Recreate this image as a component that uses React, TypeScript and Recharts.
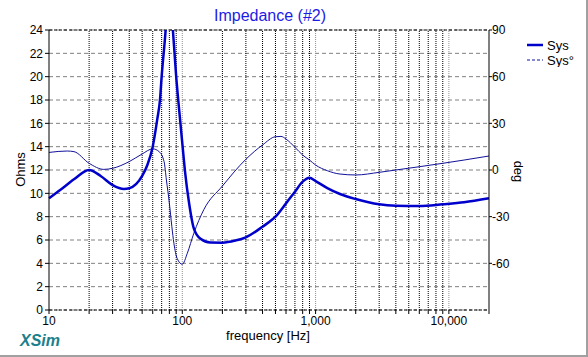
import {
  LineChart,
  Line,
  XAxis,
  YAxis,
  CartesianGrid,
  ReferenceLine,
} from "recharts";

// impedance magnitude (Ohms)
const zFreq = [
  10, 12.2, 15.4, 20, 24.4, 30, 36.5, 40, 50, 54.7, 60, 65, 68, 70, 75, 78, 80,
  82, 85, 90, 95, 100, 105, 112, 122, 137, 162, 200, 250, 300, 400, 500, 600,
  700, 800, 900, 1000, 1225, 1525, 2000, 3000, 4000, 6000, 9000, 13000, 20000,
];
const zOhms = [
  9.57, 10.3, 11.2, 12.0, 11.49, 10.71, 10.37, 10.43, 11.49, 12.43, 14.0,
  16.4, 18, 20, 24, 27, 28, 27, 24, 20, 17, 14.3, 11.8, 9.3, 7.0, 6.1, 5.78,
  5.77, 5.95, 6.23, 7.14, 8.0, 9.14, 10.14, 11.0, 11.34, 11.05, 10.45, 9.94,
  9.51, 9.06, 8.94, 8.91, 9.06, 9.23, 9.57,
];

// phase (deg), thin curve
const pFreq = [
  10, 13.7, 15.4, 20, 25.8, 30, 40, 50, 60, 67, 73, 76, 80, 83.5, 86.5, 91.5,
  100, 109, 122, 145, 200, 300, 400, 500, 550, 600, 700, 800, 900, 1000, 1225,
  1525, 2000, 3000, 4000, 6000, 9000, 13000, 20000,
];
const pDeg = [
  11.3, 12.2, 11.8, 4.3, 0.4, 1.1, 5.4, 10.3, 13.6, 11.8, 5.4, -6.4, -21.4,
  -36.4, -47.1, -56.8, -60.6, -53.6, -40.7, -25.5, -10.3, 6.9, 16.1, 21.4,
  21.6, 19.9, 14.6, 9.6, 6.4, 3.2, -0.45, -2.6, -3.2, -1.5, 0, 2.1, 4.3, 6.4,
  9.0,
];

const freqTicks = [
  10, 20, 30, 40, 50, 60, 70, 80, 90, 100, 200, 300, 400, 500, 600, 700, 800,
  900, 1000, 2000, 3000, 4000, 5000, 6000, 7000, 8000, 9000, 10000, 20000,
];
const decades = [10, 100, 1000, 10000];
const ohmTicks = [0, 2, 4, 6, 8, 10, 12, 14, 16, 18, 20, 22, 24];
const degTicks = [-60, -30, 0, 30, 60, 90];

const zData = zFreq.map((f, i) => ({ f, z: zOhms[i] }));
const pData = pFreq.map((f, i) => ({ f, p: pDeg[i] }));

const font = "Arial, 'Liberation Sans', sans-serif";
const tickStyle = { fontSize: 12, fill: "#000", fontFamily: font };

export default function App() {
  return (
    <div
      style={{
        position: "absolute",
        left: 0,
        top: 0,
        width: 588,
        height: 357,
        background: "#fff",
        boxSizing: "border-box",
        borderRight: "2px solid #a0a0a0",
        borderBottom: "2px solid #a0a0a0",
        fontFamily: font,
      }}
    >
      <LineChart
        width={588}
        height={357}
        margin={{ top: 30, right: 59, bottom: 27, left: 0 }}
      >
        <CartesianGrid
          vertical={false}
          stroke="#808080"
          strokeDasharray="4 3"
          yAxisId="ohm"
        />
        {freqTicks
          .filter((f) => f > 10 && f < 20000)
          .map((f) => (
            <ReferenceLine
              key={f}
              x={f}
              yAxisId="ohm"
              stroke={decades.includes(f) ? "#909090" : "#000"}
              strokeDasharray="1 1"
            />
          ))}
        <ReferenceLine y={24} yAxisId="ohm" stroke="#000" strokeDasharray="3 2" />
        <XAxis
          dataKey="f"
          type="number"
          scale="log"
          domain={[10, 20000]}
          ticks={freqTicks}
          interval={0}
          allowDuplicatedCategory={false}
          tickFormatter={(v: number) =>
            decades.includes(v) ? v.toLocaleString("en-US") : ""
          }
          tick={tickStyle}
          tickSize={4}
          tickMargin={2}
          height={20}
          stroke="#000"
          axisLine={{ stroke: "#000", strokeDasharray: "3 2" }}
        />
        <YAxis
          yAxisId="ohm"
          orientation="left"
          domain={[0, 24]}
          allowDataOverflow
          ticks={ohmTicks}
          interval={0}
          width={49}
          tick={tickStyle}
          tickSize={4}
          tickMargin={2}
          stroke="#000"
        />
        <YAxis
          yAxisId="deg"
          orientation="right"
          domain={[-90, 90]}
          allowDataOverflow
          ticks={degTicks}
          interval={0}
          width={40}
          tick={tickStyle}
          tickSize={3}
          tickMargin={0}
          stroke="#000"
        />
        <Line
          yAxisId="deg"
          data={pData}
          dataKey="p"
          type="monotone"
          stroke="#12129a"
          strokeWidth={1}
          dot={false}
          isAnimationActive={false}
        />
        <Line
          yAxisId="ohm"
          data={zData}
          dataKey="z"
          type="monotone"
          stroke="#0000cc"
          strokeWidth={2.5}
          dot={false}
          isAnimationActive={false}
        />
      </LineChart>

      {/* title and axis captions */}
      <div
        style={{
          position: "absolute",
          left: 0,
          width: 540,
          top: 7,
          textAlign: "center",
          fontSize: 16,
          color: "#1c1ce6",
        }}
      >
        Impedance (#2)
      </div>
      <div
        style={{
          position: "absolute",
          left: 168,
          width: 200,
          top: 328,
          textAlign: "center",
          fontSize: 13,
        }}
      >
        frequency [Hz]
      </div>
      <div
        style={{
          position: "absolute",
          left: -30,
          top: 162,
          width: 100,
          textAlign: "center",
          fontSize: 13,
          transform: "rotate(-90deg)",
        }}
      >
        Ohms
      </div>
      <div
        style={{
          position: "absolute",
          left: 468,
          top: 164,
          width: 100,
          textAlign: "center",
          fontSize: 13,
          transform: "rotate(90deg)",
        }}
      >
        deg
      </div>
      <div
        style={{
          position: "absolute",
          left: 20,
          top: 332,
          fontSize: 16,
          fontWeight: "bold",
          fontStyle: "italic",
          color: "#1b7f8c",
        }}
      >
        XSim
      </div>

      {/* legend */}
      <svg
        width={60}
        height={30}
        style={{ position: "absolute", left: 525, top: 37 }}
      >
        <line x1={2} y1={8} x2={18} y2={8} stroke="#0000cc" strokeWidth={2.5} />
        <line
          x1={2}
          y1={23}
          x2={18}
          y2={23}
          stroke="#12129a"
          strokeWidth={1}
          strokeDasharray="3 2"
        />
        <text x={22} y={12.5} fontSize={13} fontFamily={font}>
          Sys
        </text>
        <text x={22} y={27.5} fontSize={13} fontFamily={font}>
          Sys°
        </text>
      </svg>
    </div>
  );
}
